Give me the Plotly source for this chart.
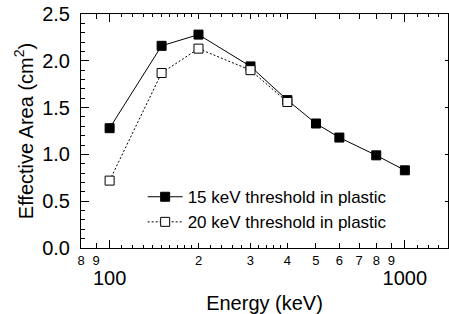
import plotly.graph_objects as go
import numpy as np

energy_15 = [100, 150, 200, 300, 400, 500, 600, 800, 1000]
area_15 = [1.28, 2.16, 2.28, 1.94, 1.58, 1.33, 1.18, 0.99, 0.83]
energy_20 = [100, 150, 200, 300, 400]
area_20 = [0.72, 1.87, 2.13, 1.90, 1.56]

label_15 = "15 keV threshold in plastic"
label_20 = "20 keV threshold in plastic"

x_digit_ticks = [80, 90, 200, 300, 400, 500, 600, 700, 800, 900]
x_digit_text = ["8", "9", "2", "3", "4", "5", "6", "7", "8", "9"]
x_decade_ticks = [100, 1000]
x_decade_text = ["100", "1000"]
x_minor_ticks = [110, 120, 130, 140, 150, 160, 170, 180, 190,
                 220, 240, 260, 280, 320, 340, 360, 380,
                 1100, 1200, 1300]
x_range = [80, 1400]
y_range = [0, 2.5]

FONT = "Liberation Sans, Arial, sans-serif"

fig = go.Figure()
fig.add_trace(go.Scatter(
    x=energy_15, y=area_15, name=label_15, mode="lines+markers",
    line=dict(color="black", width=1),
    marker=dict(symbol="square", size=9, color="black", line=dict(color="black", width=1)),
))
fig.add_trace(go.Scatter(
    x=energy_20, y=area_20, name=label_20, mode="lines+markers",
    line=dict(color="black", width=1, dash="2px,2px"),
    marker=dict(symbol="square", size=9, color="white", line=dict(color="black", width=1)),
))
# invisible helper so the overlay axes are drawn
fig.add_trace(go.Scatter(x=energy_15, y=area_15, xaxis="x2", yaxis="y2", mode="markers",
                         marker=dict(opacity=0), showlegend=False, hoverinfo="skip"))

lx = [np.log10(v) for v in x_range]

fig.update_layout(
    width=449, height=314,
    margin=dict(l=81, r=1, t=14, b=66),
    paper_bgcolor="white", plot_bgcolor="white",
    font=dict(family=FONT, color="black"),
    showlegend=True,
    legend=dict(x=0.168, y=0.294, xanchor="left", yanchor="top",
                bgcolor="rgba(0,0,0,0)", font=dict(size=17, family=FONT),
                itemwidth=35, tracegroupgap=0),
    xaxis=dict(
        type="log", range=lx, showgrid=False, zeroline=False, automargin=False,
        showline=True, linecolor="black", linewidth=1, mirror="allticks",
        ticks="inside", ticklen=5, tickcolor="black", tickwidth=1,
        tickvals=x_digit_ticks, ticktext=x_digit_text,
        tickfont=dict(size=13, family=FONT), ticklabelstandoff=0,
        minor=dict(tickvals=x_minor_ticks, ticks="inside", ticklen=3,
                   tickcolor="black", showgrid=False),
        title=dict(text="Energy (keV)", font=dict(size=20, family=FONT), standoff=29),
    ),
    xaxis2=dict(
        type="log", range=lx, overlaying="x", anchor="y", side="bottom", automargin=False,
        showgrid=False, zeroline=False, showline=False, mirror="allticks",
        ticks="inside", ticklen=8, tickcolor="black", tickwidth=1,
        tickvals=x_decade_ticks, ticktext=x_decade_text,
        tickfont=dict(size=20, family=FONT), ticklabelstandoff=16,
    ),
    yaxis=dict(
        range=y_range, showgrid=False, zeroline=False, automargin=False,
        showline=True, linecolor="black", linewidth=1,
        ticks="inside", ticklen=8, tickcolor="black", tickwidth=1,
        dtick=0.5, tick0=0, tickformat=".1f",
        tickfont=dict(size=20, family=FONT), ticklabelstandoff=6,
        minor=dict(dtick=0.1, ticks="inside", ticklen=4, tickcolor="black", showgrid=False),
        title=dict(text="Effective Area (cm<sup>2</sup>)", font=dict(size=20, family=FONT), standoff=3),
    ),
    yaxis2=dict(
        range=y_range, overlaying="y", side="right", anchor="x", automargin=False,
        showgrid=False, zeroline=False, showline=True, linecolor="black", linewidth=1,
        ticks="inside", ticklen=3, tickcolor="black", dtick=0.5, showticklabels=False,
    ),
)

# remove the browser's default 8px body margin so the figure fills the window exactly
fig.write_html("out.html", config={"displayModeBar": False},
               post_script="document.body.style.margin='0';")
